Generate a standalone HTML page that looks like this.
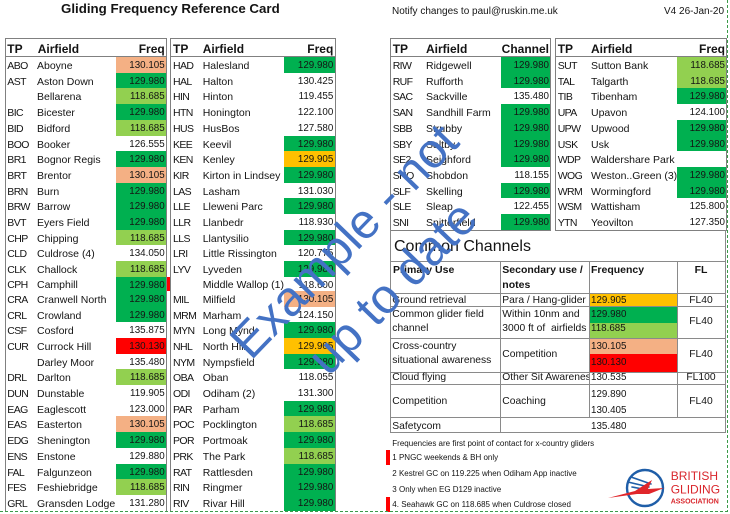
<!DOCTYPE html>
<html><head><meta charset="utf-8">
<style>
*{margin:0;padding:0;box-sizing:content-box}
html,body{width:730px;height:514px;overflow:hidden;background:#fff}
body{position:relative;font-family:"Liberation Sans",Arial,sans-serif;color:#141414}
.a{position:absolute;white-space:nowrap}
.tb{position:absolute;top:38px;border:1px solid #808080;border-bottom:none}
.hd{position:relative;height:17px;border-bottom:1px solid #808080;font-weight:bold;font-size:12px;line-height:20px}
.hd span,.r span{position:absolute;top:0;white-space:nowrap}
.r{position:relative;height:15.71px;line-height:18.7px;font-size:10.5px}
.r.x{height:14px;line-height:17px}
.r .c{letter-spacing:-0.6px}
.r .f{right:0;bottom:0;text-align:right;font-size:9.8px}
.G{background:#00B050}.L{background:#92D050}.S{background:#F4B084}.O{background:#FFC000}.R{background:#FF0000}
#t1{left:5px;width:160px;height:473px}
#t1 .c{left:1.3px}#t1 .n{left:31px}#t1 .f{left:110px;padding-right:1.3px}#t1 .fr{right:1.3px}
#t2{left:170px;width:164px;height:473px}
#t2 .c{left:2px}#t2 .n{left:31.7px}#t2 .f{left:113.3px;padding-right:1.7px}#t2 .fr{right:1.7px}
#t3{left:390px;width:159px;border-bottom:1px solid #808080}
#t3 .c{left:1.7px}#t3 .n{left:35px}#t3 .f{left:109.7px;padding-right:1px}#t3 .fr{right:1px}
#t4{left:555px;width:170px;border-bottom:1px solid #808080}
#t4 .c{left:1.7px}#t4 .n{left:35px}#t4 .f{left:121.3px;padding-right:1px}#t4 .fr{right:1px}
.ln{position:absolute;background:#8a8a8a}
.cc{position:absolute;white-space:nowrap;font-size:10.3px;line-height:14px}
.ch{position:absolute;white-space:nowrap;font-size:10.5px;line-height:14px;font-weight:bold}
.ctr{left:677px;width:48px;text-align:center}
.nt{position:absolute;white-space:nowrap;font-size:8px;line-height:12px;left:392.3px}
.cb{position:absolute}
</style></head><body>

<div class="a" style="left:61px;top:0;font-size:13.3px;font-weight:bold;line-height:17px">Gliding Frequency Reference Card</div>
<div class="a" style="left:392px;top:4px;font-size:10px;line-height:16px">Notify changes to paul@ruskin.me.uk</div>
<div class="a" style="left:664px;top:4px;font-size:10px;line-height:16px">V4 26-Jan-20</div>

<div class="tb" id="t1">
<div class="hd"><span style="left:1.3px">TP</span><span style="left:31.7px">Airfield</span><span class="fr">Freq</span></div>
<div class="r"><span class="c">ABO</span><span class="n">Aboyne</span><span class="f S">130.105</span></div>
<div class="r"><span class="c">AST</span><span class="n">Aston Down</span><span class="f G">129.980</span></div>
<div class="r"><span class="n">Bellarena</span><span class="f L">118.685</span></div>
<div class="r"><span class="c">BIC</span><span class="n">Bicester</span><span class="f G">129.980</span></div>
<div class="r"><span class="c">BID</span><span class="n">Bidford</span><span class="f L">118.685</span></div>
<div class="r"><span class="c">BOO</span><span class="n">Booker</span><span class="f">126.555</span></div>
<div class="r"><span class="c">BR1</span><span class="n">Bognor Regis</span><span class="f G">129.980</span></div>
<div class="r"><span class="c">BRT</span><span class="n">Brentor</span><span class="f S">130.105</span></div>
<div class="r"><span class="c">BRN</span><span class="n">Burn</span><span class="f G">129.980</span></div>
<div class="r"><span class="c">BRW</span><span class="n">Barrow</span><span class="f G">129.980</span></div>
<div class="r"><span class="c">BVT</span><span class="n">Eyers Field</span><span class="f G">129.980</span></div>
<div class="r"><span class="c">CHP</span><span class="n">Chipping</span><span class="f L">118.685</span></div>
<div class="r"><span class="c">CLD</span><span class="n">Culdrose (4)</span><span class="f">134.050</span></div>
<div class="r"><span class="c">CLK</span><span class="n">Challock</span><span class="f L">118.685</span></div>
<div class="r x"><span class="c">CPH</span><span class="n">Camphill</span><span class="f G">129.980</span></div>
<div class="r"><span class="c">CRA</span><span class="n">Cranwell North</span><span class="f G">129.980</span></div>
<div class="r"><span class="c">CRL</span><span class="n">Crowland</span><span class="f G">129.980</span></div>
<div class="r"><span class="c">CSF</span><span class="n">Cosford</span><span class="f">135.875</span></div>
<div class="r"><span class="c">CUR</span><span class="n">Currock Hill</span><span class="f R">130.130</span></div>
<div class="r"><span class="n">Darley Moor</span><span class="f">135.480</span></div>
<div class="r"><span class="c">DRL</span><span class="n">Darlton</span><span class="f L">118.685</span></div>
<div class="r"><span class="c">DUN</span><span class="n">Dunstable</span><span class="f">119.905</span></div>
<div class="r"><span class="c">EAG</span><span class="n">Eaglescott</span><span class="f">123.000</span></div>
<div class="r"><span class="c">EAS</span><span class="n">Easterton</span><span class="f S">130.105</span></div>
<div class="r"><span class="c">EDG</span><span class="n">Shenington</span><span class="f G">129.980</span></div>
<div class="r"><span class="c">ENS</span><span class="n">Enstone</span><span class="f">129.880</span></div>
<div class="r"><span class="c">FAL</span><span class="n">Falgunzeon</span><span class="f G">129.980</span></div>
<div class="r"><span class="c">FES</span><span class="n">Feshiebridge</span><span class="f L">118.685</span></div>
<div class="r"><span class="c">GRL</span><span class="n">Gransden Lodge</span><span class="f">131.280</span></div>
</div>

<div class="tb" id="t2">
<div class="hd"><span style="left:2px">TP</span><span style="left:31.7px">Airfield</span><span class="fr">Freq</span></div>
<div class="r"><span class="c">HAD</span><span class="n">Halesland</span><span class="f G">129.980</span></div>
<div class="r"><span class="c">HAL</span><span class="n">Halton</span><span class="f">130.425</span></div>
<div class="r"><span class="c">HIN</span><span class="n">Hinton</span><span class="f">119.455</span></div>
<div class="r"><span class="c">HTN</span><span class="n">Honington</span><span class="f">122.100</span></div>
<div class="r"><span class="c">HUS</span><span class="n">HusBos</span><span class="f">127.580</span></div>
<div class="r"><span class="c">KEE</span><span class="n">Keevil</span><span class="f G">129.980</span></div>
<div class="r"><span class="c">KEN</span><span class="n">Kenley</span><span class="f O">129.905</span></div>
<div class="r"><span class="c">KIR</span><span class="n">Kirton in Lindsey</span><span class="f G">129.980</span></div>
<div class="r"><span class="c">LAS</span><span class="n">Lasham</span><span class="f">131.030</span></div>
<div class="r"><span class="c">LLE</span><span class="n">Lleweni Parc</span><span class="f G">129.980</span></div>
<div class="r"><span class="c">LLR</span><span class="n">Llanbedr</span><span class="f">118.930</span></div>
<div class="r"><span class="c">LLS</span><span class="n">Llantysilio</span><span class="f G">129.980</span></div>
<div class="r"><span class="c">LRI</span><span class="n">Little Rissington</span><span class="f">120.775</span></div>
<div class="r"><span class="c">LYV</span><span class="n">Lyveden</span><span class="f G">129.980</span></div>
<div class="r x"><span class="n">Middle Wallop (1)</span><span class="f">118.600</span></div>
<div class="r"><span class="c">MIL</span><span class="n">Milfield</span><span class="f S">130.105</span></div>
<div class="r"><span class="c">MRM</span><span class="n">Marham</span><span class="f">124.150</span></div>
<div class="r"><span class="c">MYN</span><span class="n">Long Mynd</span><span class="f G">129.980</span></div>
<div class="r"><span class="c">NHL</span><span class="n">North Hill</span><span class="f O">129.905</span></div>
<div class="r"><span class="c">NYM</span><span class="n">Nympsfield</span><span class="f G">129.980</span></div>
<div class="r"><span class="c">OBA</span><span class="n">Oban</span><span class="f">118.055</span></div>
<div class="r"><span class="c">ODI</span><span class="n">Odiham (2)</span><span class="f">131.300</span></div>
<div class="r"><span class="c">PAR</span><span class="n">Parham</span><span class="f G">129.980</span></div>
<div class="r"><span class="c">POC</span><span class="n">Pocklington</span><span class="f L">118.685</span></div>
<div class="r"><span class="c">POR</span><span class="n">Portmoak</span><span class="f G">129.980</span></div>
<div class="r"><span class="c">PRK</span><span class="n">The Park</span><span class="f L">118.685</span></div>
<div class="r"><span class="c">RAT</span><span class="n">Rattlesden</span><span class="f G">129.980</span></div>
<div class="r"><span class="c">RIN</span><span class="n">Ringmer</span><span class="f G">129.980</span></div>
<div class="r"><span class="c">RIV</span><span class="n">Rivar Hill</span><span class="f G">129.980</span></div>
</div>

<div class="tb" id="t3">
<div class="hd"><span style="left:1.7px">TP</span><span style="left:35px">Airfield</span><span class="fr">Channel</span></div>
<div class="r"><span class="c">RIW</span><span class="n">Ridgewell</span><span class="f G">129.980</span></div>
<div class="r"><span class="c">RUF</span><span class="n">Rufforth</span><span class="f G">129.980</span></div>
<div class="r"><span class="c">SAC</span><span class="n">Sackville</span><span class="f">135.480</span></div>
<div class="r"><span class="c">SAN</span><span class="n">Sandhill Farm</span><span class="f G">129.980</span></div>
<div class="r"><span class="c">SBB</span><span class="n">Strubby</span><span class="f G">129.980</span></div>
<div class="r"><span class="c">SBY</span><span class="n">Saltby</span><span class="f G">129.980</span></div>
<div class="r"><span class="c">SE2</span><span class="n">Seighford</span><span class="f G">129.980</span></div>
<div class="r"><span class="c">SHO</span><span class="n">Shobdon</span><span class="f">118.155</span></div>
<div class="r"><span class="c">SLF</span><span class="n">Skelling</span><span class="f G">129.980</span></div>
<div class="r"><span class="c">SLE</span><span class="n">Sleap</span><span class="f">122.455</span></div>
<div class="r"><span class="c">SNI</span><span class="n">Snitterfield</span><span class="f G">129.980</span></div>
</div>

<div class="tb" id="t4">
<div class="hd"><span style="left:1.7px">TP</span><span style="left:35px">Airfield</span><span class="fr">Freq</span></div>
<div class="r"><span class="c">SUT</span><span class="n">Sutton Bank</span><span class="f L">118.685</span></div>
<div class="r"><span class="c">TAL</span><span class="n">Talgarth</span><span class="f L">118.685</span></div>
<div class="r"><span class="c">TIB</span><span class="n">Tibenham</span><span class="f G">129.980</span></div>
<div class="r"><span class="c">UPA</span><span class="n">Upavon</span><span class="f">124.100</span></div>
<div class="r"><span class="c">UPW</span><span class="n">Upwood</span><span class="f G">129.980</span></div>
<div class="r"><span class="c">USK</span><span class="n">Usk</span><span class="f G">129.980</span></div>
<div class="r"><span class="c">WDP</span><span class="n">Waldershare Park</span></div>
<div class="r"><span class="c">WOG</span><span class="n">Weston..Green (3)</span><span class="f G">129.980</span></div>
<div class="r"><span class="c">WRM</span><span class="n">Wormingford</span><span class="f G">129.980</span></div>
<div class="r"><span class="c">WSM</span><span class="n">Wattisham</span><span class="f">125.800</span></div>
<div class="r"><span class="c">YTN</span><span class="n">Yeovilton</span><span class="f">127.350</span></div>
</div>

<!-- red marker between tables -->
<div class="cb R" style="left:167px;top:277px;width:3px;height:14px"></div>

<!-- Common channels -->
<div class="a" style="left:394px;top:236.7px;font-size:16px;line-height:20px">Common Channels</div>

<div class="cb O" style="left:590px;top:294px;width:87px;height:12px"></div>
<div class="cb G" style="left:590px;top:307px;width:87px;height:15.5px"></div>
<div class="cb L" style="left:590px;top:322.5px;width:87px;height:15.5px"></div>
<div class="cb S" style="left:590px;top:339px;width:87px;height:15px"></div>
<div class="cb R" style="left:590px;top:354px;width:87px;height:18px"></div>

<div class="ln" style="left:390px;top:230px;width:1px;height:203px"></div>
<div class="ln" style="left:725px;top:230px;width:1px;height:203px"></div>
<div class="ln" style="left:390px;top:432px;width:336px;height:1px"></div>
<div class="ln" style="left:391px;top:261px;width:334px;height:1px"></div>
<div class="ln" style="left:391px;top:293px;width:334px;height:1px"></div>
<div class="ln" style="left:391px;top:306px;width:334px;height:1px"></div>
<div class="ln" style="left:391px;top:338px;width:334px;height:1px"></div>
<div class="ln" style="left:391px;top:372px;width:334px;height:1px"></div>
<div class="ln" style="left:391px;top:384px;width:334px;height:1px"></div>
<div class="ln" style="left:391px;top:417px;width:334px;height:1px"></div>
<div class="ln" style="left:500px;top:261px;width:1px;height:172px"></div>
<div class="ln" style="left:589px;top:261px;width:1px;height:156px"></div>
<div class="ln" style="left:677px;top:261px;width:1px;height:156px"></div>

<div class="ch" style="left:393px;top:263px">Primary Use</div>
<div class="ch" style="left:502.3px;top:263px">Secondary use /</div>
<div class="ch" style="left:502.3px;top:278px">notes</div>
<div class="ch" style="left:591px;top:263px">Frequency</div>
<div class="ch ctr" style="top:263px">FL</div>

<div class="cc" style="left:392.3px;top:293.7px">Ground retrieval</div>
<div class="cc" style="left:502.3px;top:293.7px">Para / Hang-glider</div>
<div class="cc" style="left:591px;top:293.7px;font-size:9.8px">129.905</div>
<div class="cc ctr" style="top:293.7px">FL40</div>

<div class="cc" style="left:392.3px;top:308px">Common glider field</div>
<div class="cc" style="left:392.3px;top:322.3px">channel</div>
<div class="cc" style="left:502.3px;top:308px">Within 10nm and</div>
<div class="cc" style="left:502.3px;top:322.3px">3000 ft of&nbsp; airfields</div>
<div class="cc" style="left:591px;top:308px;font-size:9.8px">129.980</div>
<div class="cc" style="left:591px;top:322.3px;font-size:9.8px">118.685</div>
<div class="cc ctr" style="top:315px">FL40</div>

<div class="cc" style="left:392.3px;top:339.7px">Cross-country</div>
<div class="cc" style="left:392.3px;top:353.7px">situational awareness</div>
<div class="cc" style="left:502.3px;top:348px">Competition</div>
<div class="cc" style="left:591px;top:339.7px;font-size:9.8px">130.105</div>
<div class="cc" style="left:591px;top:356px;font-size:9.8px">130.130</div>
<div class="cc ctr" style="top:348px">FL40</div>

<div class="cc" style="left:392.3px;top:370.7px">Cloud flying</div>
<div class="cc" style="left:502.3px;top:370.7px;width:87px;overflow:hidden">Other Sit Awareness</div>
<div class="cc" style="left:591px;top:371px;font-size:9.8px">130.535</div>
<div class="cc ctr" style="top:371px">FL100</div>

<div class="cc" style="left:392.3px;top:394.7px">Competition</div>
<div class="cc" style="left:502.3px;top:394.7px">Coaching</div>
<div class="cc" style="left:591px;top:388.3px;font-size:9.8px">129.890</div>
<div class="cc" style="left:591px;top:403.7px;font-size:9.8px">130.405</div>
<div class="cc ctr" style="top:394.7px">FL40</div>

<div class="cc" style="left:392.3px;top:419.7px">Safetycom</div>
<div class="cc" style="left:591px;top:419.7px;font-size:9.8px">135.480</div>

<!-- notes -->
<div class="nt" style="top:438px">Frequencies are first point of contact for x-country gliders</div>
<div class="nt" style="top:452.3px">1 PNGC weekends &amp; BH only</div>
<div class="nt" style="top:468.3px">2 Kestrel GC on 119.225 when Odiham App inactive</div>
<div class="nt" style="top:484px">3 Only when EG D129 inactive</div>
<div class="nt" style="top:499px">4. Seahawk GC on 118.685 when Culdrose closed</div>
<div class="cb R" style="left:386px;top:450px;width:4px;height:15px"></div>
<div class="cb R" style="left:386px;top:497px;width:4px;height:15px"></div>

<!-- BGA logo -->
<svg class="cb" style="left:600px;top:440px" width="130" height="74" viewBox="0 0 130 74">
<circle cx="45" cy="48" r="18" fill="none" stroke="#1f5ea8" stroke-width="2.4"/>
<g stroke="#1f5ea8" stroke-width="1.6" stroke-linecap="round">
<line x1="31" y1="37" x2="51" y2="44"/>
<line x1="28" y1="42" x2="49" y2="47"/>
<line x1="32" y1="47" x2="48" y2="50"/>
</g>
<polygon points="8,58 35,51 52,40 48,49 64,48 49,54 37,54" fill="#e0262b"/>
<text x="70.7" y="40" font-family="Liberation Sans, sans-serif" font-size="12" fill="#d9262c">BRITISH</text>
<text x="70.7" y="53.6" font-family="Liberation Sans, sans-serif" font-size="12" fill="#d9262c">GLIDING</text>
<text x="70.7" y="63.5" font-family="Liberation Sans, sans-serif" font-size="7" font-weight="bold" fill="#d9262c">ASSOCIATION</text>
</svg>

<!-- watermark -->
<div style="position:absolute;left:369px;top:265px;width:0;height:0">
<div style="position:absolute;left:-200px;top:-67px;width:400px;height:134px;text-align:center;font-family:'Liberation Sans',sans-serif;font-size:49px;line-height:67px;color:#4472C4;white-space:nowrap;transform:rotate(-46deg);transform-origin:200px 67px">Example - not<br>up to date</div>
</div>

<!-- page-break dashed lines -->
<svg class="cb" style="left:0;top:0" width="730" height="514">
<line x1="727.5" y1="0" x2="727.5" y2="511" stroke="#3a9a48" stroke-width="1" stroke-dasharray="3,2"/>
<line x1="0" y1="511.5" x2="728" y2="511.5" stroke="#3a9a48" stroke-width="1" stroke-dasharray="3,2"/>
</svg>

</body></html>
